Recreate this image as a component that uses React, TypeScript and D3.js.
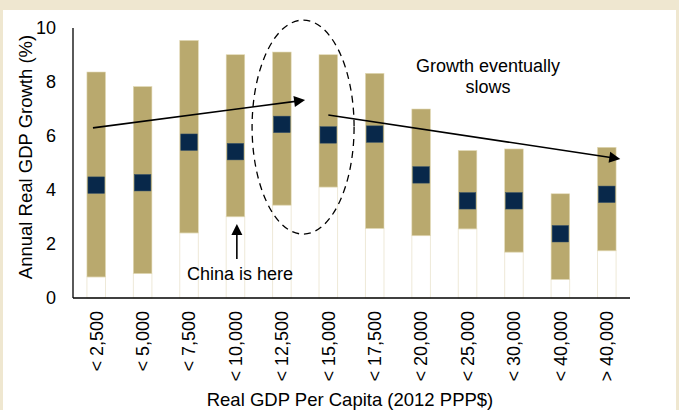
import React from "react";
import * as d3 from "d3";

const categories = ["< 2,500", "< 5,000", "< 7,500", "< 10,000", "< 12,500", "< 15,000", "< 17,500", "< 20,000", "< 25,000", "< 30,000", "< 40,000", "> 40,000"];
const lowValues = [0.78, 0.91, 2.41, 3.01, 3.44, 4.11, 2.58, 2.31, 2.56, 1.70, 0.69, 1.75];
const highValues = [8.37, 7.83, 9.54, 9.01, 9.11, 9.01, 8.32, 7.0, 5.46, 5.52, 3.86, 5.58];
const meanValues = [4.18, 4.27, 5.77, 5.42, 6.43, 6.04, 6.07, 4.56, 3.60, 3.60, 2.38, 3.84];
const yTicks = [0, 2, 4, 6, 8, 10];

const W = 679;
const H = 410;
const FONT = "'Liberation Sans', Arial, Helvetica, sans-serif";

export default function App() {
  const x = d3.scaleBand<string>().domain(categories).range([73, 630]).paddingInner(0.6).paddingOuter(0.3);
  const y = d3.scaleLinear().domain([0, 10]).range([298, 28]);
  const bw = x.bandwidth();
  const cx = (i: number) => (x(categories[0]) as number) + bw / 2 + i * x.step();
  const sq = 16.5;

  const arrowHead = (x1: number, y1: number, x2: number, y2: number, size = 11) => {
    const a = Math.atan2(y2 - y1, x2 - x1);
    const p1 = [x2 - size * Math.cos(a) + (size * 0.5) * Math.sin(a), y2 - size * Math.sin(a) - (size * 0.5) * Math.cos(a)];
    const p2 = [x2 - size * Math.cos(a) - (size * 0.5) * Math.sin(a), y2 - size * Math.sin(a) + (size * 0.5) * Math.cos(a)];
    return `M${x2},${y2}L${p1[0]},${p1[1]}L${p2[0]},${p2[1]}Z`;
  };
  const arrows = [
    { x1: cx(-0.07), y1: y(6.3), x2: cx(4.5), y2: y(7.33) },
    { x1: cx(5.0), y1: y(6.78), x2: cx(11.29), y2: y(5.15) },
    { x1: cx(3.03), y1: y(1.44), x2: cx(3.03), y2: y(2.74) },
  ];

  return (
    <div style={{ position: "absolute", left: 0, top: 0 }}>
      <svg width={W} height={H} style={{ display: "block" }} fontFamily={FONT}>
        <rect x={0} y={0} width={W} height={H} fill="#EFE7D0" />
        <rect x={3} y={10} width={673} height={H - 10} fill="#FFFFFF" />

        {categories.map((c, i) => (
          <rect key={"w" + c} x={x(c)} y={y(lowValues[i])} width={bw} height={y(0) - y(lowValues[i])} fill="#FFFFFF" stroke="#EEE9D8" strokeWidth={1} />
        ))}
        {categories.map((c, i) => (
          <rect key={"t" + c} x={x(c)} y={y(highValues[i])} width={bw} height={y(lowValues[i]) - y(highValues[i])} fill="#B9A96E" stroke="#E2D9B5" strokeWidth={0.6} />
        ))}
        {categories.map((c, i) => (
          <rect key={"m" + c} x={(x(c) as number) + bw / 2 - sq / 2} y={y(meanValues[i]) - sq / 2} width={sq} height={sq} fill="#08284A" stroke="#34506A" strokeWidth={0.5} />
        ))}

        <line x1={73} x2={73} y1={y(10)} y2={y(0)} stroke="#000" strokeWidth={1.3} />
        <line x1={73} x2={630} y1={y(0)} y2={y(0)} stroke="#000" strokeWidth={1.3} />

        {yTicks.map((t) => (
          <text key={t} x={56} y={y(t)} dy="0.35em" textAnchor="end" fontSize={18} fill="#000">{t}</text>
        ))}
        {categories.map((c) => (
          <text key={c} transform={`translate(${(x(c) as number) + bw / 2},311) rotate(-90)`} dy="0.35em" textAnchor="end" fontSize={18} fill="#000">{c}</text>
        ))}

        <text transform={`translate(32,157) rotate(-90)`} textAnchor="middle" fontSize={18.5} fill="#000">Annual Real GDP Growth (%)</text>
        <text x={350} y={406} textAnchor="middle" fontSize={18.5} fill="#000">Real GDP Per Capita (2012 PPP$)</text>

        <ellipse cx={cx(4.5) - 2} cy={y(6.33)} rx={51} ry={107} fill="none" stroke="#000" strokeWidth={1.3} strokeDasharray="7,5" />

        {arrows.map((a, i) => {
          const ang = Math.atan2(a.y2 - a.y1, a.x2 - a.x1);
          return (
            <g key={i}>
              <line x1={a.x1} y1={a.y1} x2={a.x2 - 8 * Math.cos(ang)} y2={a.y2 - 8 * Math.sin(ang)} stroke="#000" strokeWidth={1.6} />
              <path d={arrowHead(a.x1, a.y1, a.x2, a.y2)} fill="#000" />
            </g>
          );
        })}

        <text x={cx(3.1)} y={280} textAnchor="middle" fontSize={18} fill="#000">China is here</text>
        <text x={cx(8.44)} y={72} textAnchor="middle" fontSize={18} fill="#000">Growth eventually</text>
        <text x={cx(8.44)} y={93} textAnchor="middle" fontSize={18} fill="#000">slows</text>
      </svg>
    </div>
  );
}
